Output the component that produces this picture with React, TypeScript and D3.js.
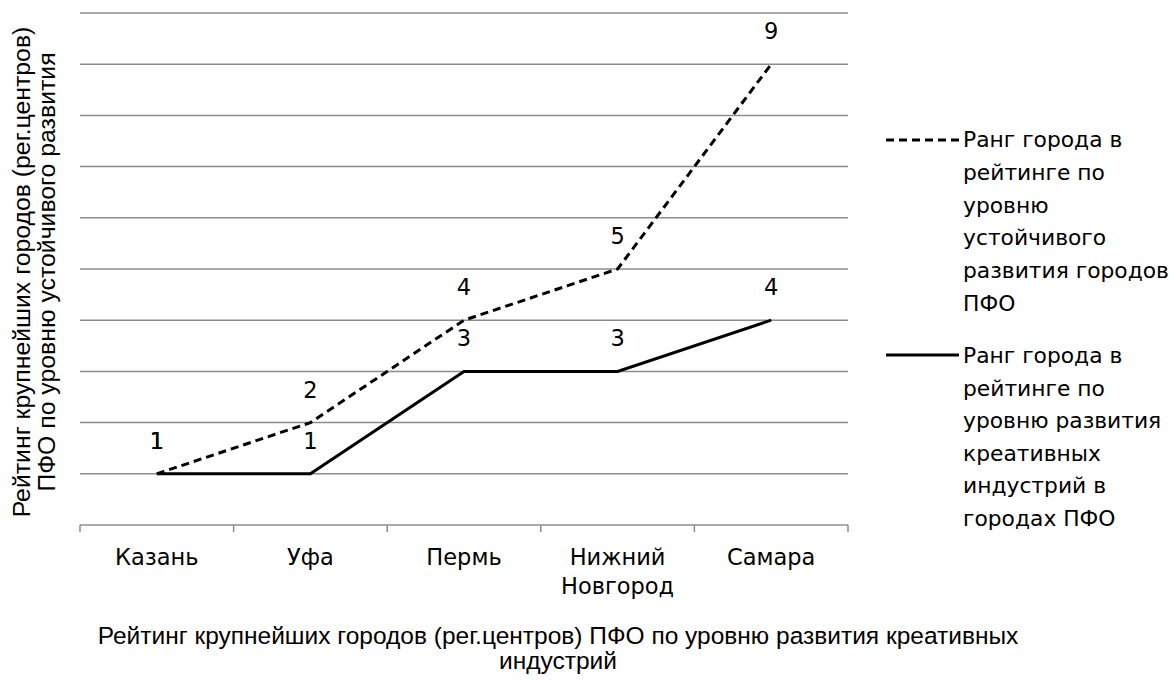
import React from 'react';
import * as d3 from 'd3';

const width = 1169;
const height = 681;
const margin = {top: 13, right: 321, bottom: 156, left: 80};
const titleFont = '"Liberation Sans", Arial, sans-serif';
const bodyFont = '"DejaVu Sans", Verdana, sans-serif';
const gridColor = '#8c8c8c';

const cities = ['Казань', 'Уфа', 'Пермь', 'Нижний Новгород', 'Самара'];
const cityLines = [['Казань'], ['Уфа'], ['Пермь'], ['Нижний', 'Новгород'], ['Самара']];
const sustainRank = [1, 2, 4, 5, 9];
const creativeRank = [1, 1, 3, 3, 4];
const yTicks = [1, 2, 3, 4, 5, 6, 7, 8, 9, 10];

const legendSustain = ['Ранг города в', 'рейтинге по', 'уровню', 'устойчивого', 'развития городов', 'ПФО'];
const legendCreative = ['Ранг города в', 'рейтинге по', 'уровню развития', 'креативных', 'индустрий в', 'городах ПФО'];
const yTitle = ['Рейтинг крупнейших городов  (рег.центров)', 'ПФО по уровню устойчивого развития'];
const xTitle = ['Рейтинг крупнейших городов (рег.центров) ПФО по уровню развития креативных', 'индустрий'];

const x = d3.scaleBand().domain(cities).range([margin.left, width - margin.right]);
const y = d3.scaleLinear().domain([0, 10]).range([height - margin.bottom, margin.top]);
const cx = (c) => x(c) + x.bandwidth() / 2;

const line = d3.line().x(d => cx(d.c)).y(d => y(d.v));

const sustainData = cities.map((c, i) => ({c, v: sustainRank[i]}));
const creativeData = cities.map((c, i) => ({c, v: creativeRank[i]}));

export default function App() {
  const bottom = y(0);
  const boundaries = [...cities.map(c => x(c)), x.range()[1]];
  const fs = 22.5;

  return (
    <svg width={width} height={height} style={{position: 'absolute', left: 0, top: 0}}>
      <rect width={width} height={height} fill='#fff' />
      {/* gridlines */}
      {yTicks.map(t => (
        <line key={t} x1={margin.left} x2={width - margin.right} y1={y(t)} y2={y(t)} stroke={gridColor} strokeWidth='1.5' />
      ))}
      {/* x axis */}
      <line x1={margin.left} x2={width - margin.right} y1={bottom} y2={bottom} stroke={gridColor} strokeWidth='1.5' />
      {boundaries.map((b, i) => (
        <line key={i} x1={b} x2={b} y1={bottom} y2={bottom + 7} stroke={gridColor} strokeWidth='1.5' />
      ))}
      <g fontFamily={bodyFont} fontSize={fs} fill='#000'>
        {cityLines.map((ls, i) => (
          <text key={i} x={cx(cities[i])} y={bottom + 40} textAnchor='middle'>
            {ls.map((l, j) => <tspan key={j} x={cx(cities[i])} dy={j === 0 ? 0 : 29}>{l}</tspan>)}
          </text>
        ))}
      </g>

      <path d={line(sustainData)} fill='none' stroke='#000' strokeWidth='3' strokeDasharray='8 5' />
      <path d={line(creativeData)} fill='none' stroke='#000' strokeWidth='3' />

      {/* data labels */}
      <g fontFamily={bodyFont} fontSize={fs} textAnchor='middle'>
        {sustainData.map((d, i) => (
          <text key={'s' + i} x={cx(d.c)} y={y(d.v) - 25}>{d.v}</text>
        ))}
        {creativeData.map((d, i) => (
          <text key={'c' + i} x={cx(d.c)} y={y(d.v) - 25}>{d.v}</text>
        ))}
      </g>

      {/* y title */}
      <g fontFamily={titleFont} fontSize='24.8' textAnchor='middle'>
        {yTitle.map((t, i) => (
          <text key={i} transform={`translate(${30 + i * 25}, 272) rotate(-90)`}>{t}</text>
        ))}
      </g>

      {/* x title */}
      <text x={558} y={644} textAnchor='middle' fontFamily={titleFont} fontSize='24.5'>
        {xTitle.map((t, j) => <tspan key={j} x={558} dy={j === 0 ? 0 : 25}>{t}</tspan>)}
      </text>

      {/* legend */}
      <g fontFamily={bodyFont} fontSize='21.8'>
        <line x1={886} x2={959} y1={140} y2={140} stroke='#000' strokeWidth='3' strokeDasharray='8 5' />
        <text x={963} y={147}>
          {legendSustain.map((t, j) => <tspan key={j} x={963} dy={j === 0 ? 0 : 32.8}>{t}</tspan>)}
        </text>
        <line x1={886} x2={959} y1={355} y2={355} stroke='#000' strokeWidth='3' />
        <text x={963} y={363}>
          {legendCreative.map((t, j) => <tspan key={j} x={963} dy={j === 0 ? 0 : 32.6}>{t}</tspan>)}
        </text>
      </g>
    </svg>
  );
}
